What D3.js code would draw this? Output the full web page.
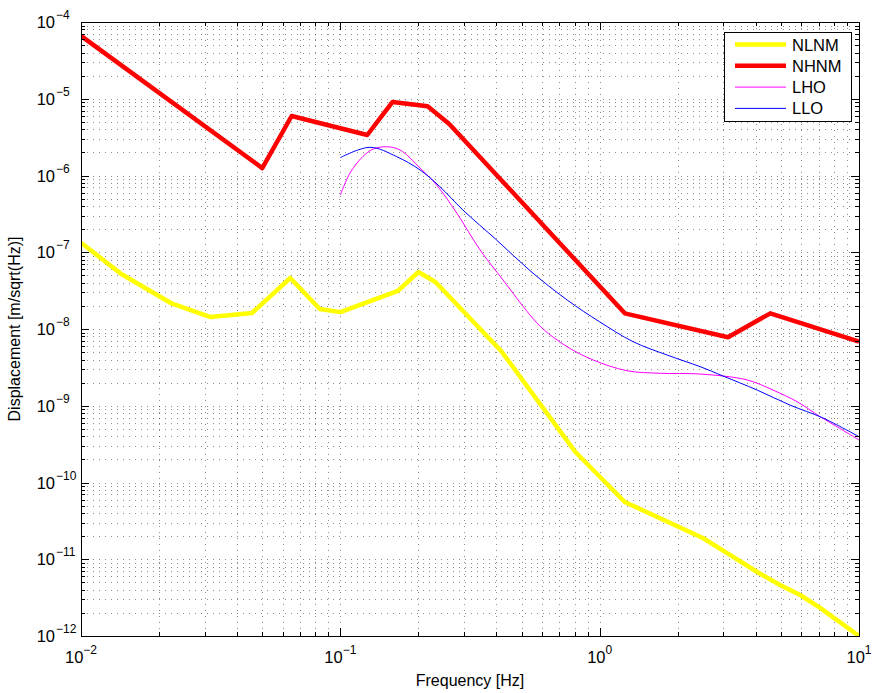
<!DOCTYPE html>
<meta charset="utf-8">
<style>

body {
  margin: 0;
  background: #fff;
}

svg text {
  font-family: "Liberation Sans", Arial, Helvetica, sans-serif;
  fill: #000;
}

.grid line {
  stroke: #000;
  stroke-opacity: 0.45;
  stroke-width: 1px;
  stroke-dasharray: 1,5;
}

.box {
  fill: none;
  stroke: #000;
  stroke-width: 1px;
}

.ticks line {
  stroke: #000;
  stroke-width: 1px;
}

</style>

<svg width="872" height="693"></svg>
<script src="https://d3js.org/d3.v7.min.js"></script>
<script>

// Peterson low / high noise models, as displacement
const nlnmFreq = [0.01, 0.0143, 0.0222, 0.0316, 0.0457, 0.0641, 0.0833, 0.1, 0.1667, 0.2, 0.2326, 0.417, 0.806, 1.25, 2.5, 3.18, 4.05, 4.96, 5.93, 7.08, 10];
const nlnmDisp = [1.33e-7, 5.21e-8, 2.18e-8, 1.43e-8, 1.62e-8, 4.62e-8, 1.82e-8, 1.66e-8, 3.13e-8, 5.53e-8, 4.1e-8, 5.17e-9, 2.5e-10, 5.57e-11, 1.89e-11, 1.14e-11, 6.82e-12, 4.62e-12, 3.42e-12, 2.32e-12, 1e-12];

const nhnmFreq = [0.01, 0.05, 0.0649, 0.127, 0.159, 0.217, 0.263, 1.25, 3.125, 4.55, 10];
const nhnmDisp = [6.6e-5, 1.25e-6, 5.96e-6, 3.37e-6, 9.1e-6, 8.0e-6, 4.7e-6, 1.6e-8, 7.8e-9, 1.6e-8, 6.84e-9];

// site spectra
const lhoFreq = [0.1, 0.109, 0.122, 0.134, 0.151, 0.170, 0.203, 0.235, 0.281, 0.346, 0.424, 0.539, 0.605, 0.749, 0.943, 1.275, 1.71, 2.44, 3.70, 4.66, 5.77, 7.08, 8.23, 10];
const lhoDisp = [5.57e-7, 1.08e-6, 1.76e-6, 2.21e-6, 2.37e-6, 2.15e-6, 1.25e-6, 7.52e-7, 3.25e-7, 1.07e-7, 4.35e-8, 1.52e-8, 1.0e-8, 5.88e-9, 3.95e-9, 2.86e-9, 2.65e-9, 2.59e-9, 2.17e-9, 1.6e-9, 1.13e-9, 7.2e-10, 5.33e-10, 3.58e-10];

const lloFreq = [0.1, 0.130, 0.165, 0.203, 0.242, 0.297, 0.401, 0.539, 0.749, 1.0, 1.345, 1.82, 2.44, 2.99, 4.05, 5.42, 7.27, 10];
const lloDisp = [1.71e-6, 2.33e-6, 1.76e-6, 1.18e-6, 7.15e-7, 3.55e-7, 1.44e-7, 5.75e-8, 2.39e-8, 1.24e-8, 6.84e-9, 4.58e-9, 3.23e-9, 2.44e-9, 1.6e-9, 1.02e-9, 6.92e-10, 3.95e-10];

const xMajor = [-2, -1, 0, 1];
const yMajor = [-12, -11, -10, -9, -8, -7, -6, -5, -4];

const seriesNames = ["NLNM", "NHNM", "LHO", "LLO"];
const seriesColors = ["#ffff00", "#ff0000", "#ff00ff", "#0000ff"];
const seriesWidths = [4.5, 4.5, 1, 1];

const margin = {top: 22, right: 13, bottom: 57, left: 81};
const width = 872 - margin.left - margin.right,
  height = 693 - margin.top - margin.bottom;

const x = d3.scaleLog().domain([1e-2, 1e1]).range([0, width]);
const y = d3.scaleLog().domain([1e-12, 1e-4]).range([height, 0]);

const svg = d3.select("svg");
const g = svg.append("g")
  .attr("transform", "translate(" + margin.left + "," + margin.top + ")");

// all decade + minor positions
const xTicks = [];
for (let e = -2; e < 1; e++) {
  for (let m = 1; m < 10; m++) xTicks.push(m * Math.pow(10, e));
}
xTicks.push(10);
const yTicks = [];
for (let e = -12; e < -4; e++) {
  for (let m = 1; m < 10; m++) yTicks.push(m * Math.pow(10, e));
}
yTicks.push(1e-4);

const isMajor = v => Math.abs(Math.log10(v) - Math.round(Math.log10(v))) < 1e-9;

// dotted grid
const grid = g.append("g").attr("class", "grid");
grid.selectAll(".gx")
  .data(xTicks.filter(v => v > 1e-2 && v < 10))
  .enter().append("line")
    .attr("x1", d => Math.round(x(d)) + 0.5)
    .attr("x2", d => Math.round(x(d)) + 0.5)
    .attr("y1", 0)
    .attr("y2", height);
grid.selectAll(".gy")
  .data(yTicks.filter(v => v > 1e-12 && v < 1e-4))
  .enter().append("line")
    .attr("y1", d => Math.round(y(d)) + 0.5)
    .attr("y2", d => Math.round(y(d)) + 0.5)
    .attr("x1", 0)
    .attr("x2", width);

// curves
g.append("clipPath").attr("id", "plotclip")
  .append("rect").attr("width", width).attr("height", height);

const series = [
  {freq: nlnmFreq, disp: nlnmDisp, smooth: false},
  {freq: nhnmFreq, disp: nhnmDisp, smooth: false},
  {freq: lhoFreq, disp: lhoDisp, smooth: true},
  {freq: lloFreq, disp: lloDisp, smooth: true}
];

const plot = g.append("g").attr("clip-path", "url(#plotclip)");
series.forEach((s, i) => {
  const pts = s.freq.map((f, j) => [f, s.disp[j]]);
  const line = d3.line()
    .x(d => x(d[0]))
    .y(d => y(d[1]))
    .curve(s.smooth ? d3.curveCatmullRom.alpha(0.5) : d3.curveLinear);
  plot.append("path")
    .datum(pts)
    .attr("fill", "none")
    .attr("stroke", seriesColors[i])
    .attr("stroke-width", seriesWidths[i])
    .attr("stroke-linejoin", "round")
    .attr("d", line);
});

// inward ticks on all four sides
const ticks = g.append("g").attr("class", "ticks");
xTicks.forEach(v => {
  const len = isMajor(v) ? 8 : 4;
  const px = Math.round(x(v)) + 0.5;
  ticks.append("line").attr("x1", px).attr("x2", px).attr("y1", height).attr("y2", height - len);
  ticks.append("line").attr("x1", px).attr("x2", px).attr("y1", 0).attr("y2", len);
});
yTicks.forEach(v => {
  const len = isMajor(v) ? 8 : 4;
  const py = Math.round(y(v)) + 0.5;
  ticks.append("line").attr("y1", py).attr("y2", py).attr("x1", 0).attr("x2", len);
  ticks.append("line").attr("y1", py).attr("y2", py).attr("x1", width).attr("x2", width - len);
});

g.append("rect")
  .attr("class", "box")
  .attr("x", 0.5).attr("y", 0.5)
  .attr("width", width).attr("height", height);

// tick labels as 10^n
const xLab = g.append("g");
xMajor.forEach(e => {
  const t = xLab.append("text")
    .attr("x", x(Math.pow(10, e)))
    .attr("y", height + 27)
    .attr("text-anchor", "middle")
    .style("font-size", "16.5px");
  t.append("tspan").text("10");
  t.append("tspan").attr("dy", -9).style("font-size", "12px").text(String(e).replace("-", "\u2212"));
});

const yLab = g.append("g");
yMajor.forEach(e => {
  const py = y(Math.pow(10, e));
  yLab.append("text")
    .attr("x", -26)
    .attr("y", py + 6)
    .attr("text-anchor", "end")
    .style("font-size", "16.5px")
    .text("10");
  yLab.append("text")
    .attr("x", -25)
    .attr("y", py - 3)
    .style("font-size", "12px")
    .text(String(e).replace("-", "\u2212"));
});

// axis titles
g.append("text")
  .attr("x", width / 2)
  .attr("y", height + 50)
  .attr("text-anchor", "middle")
  .style("font-size", "16px")
  .text("Frequency [Hz]");

g.append("text")
  .attr("transform", "translate(" + (-61) + "," + (height / 2) + ") rotate(-90)")
  .attr("text-anchor", "middle")
  .style("font-size", "16px")
  .text("Displacement [m/sqrt(Hz)]");

// legend
const legend = g.append("g")
  .attr("transform", "translate(" + (724 - margin.left) + "," + (32 - margin.top) + ")");
legend.append("rect")
  .attr("x", 0.5).attr("y", 0.5)
  .attr("width", 127).attr("height", 89)
  .attr("fill", "#fff")
  .attr("stroke", "#000");
seriesNames.forEach((name, i) => {
  const ly = 12.5 + i * 21.3;
  legend.append("line")
    .attr("x1", 11).attr("x2", 62)
    .attr("y1", ly).attr("y2", ly)
    .attr("stroke", seriesColors[i])
    .attr("stroke-width", seriesWidths[i]);
  legend.append("text")
    .attr("x", 68)
    .attr("y", ly + 6)
    .style("font-size", "16.5px")
    .text(name);
});

</script>
